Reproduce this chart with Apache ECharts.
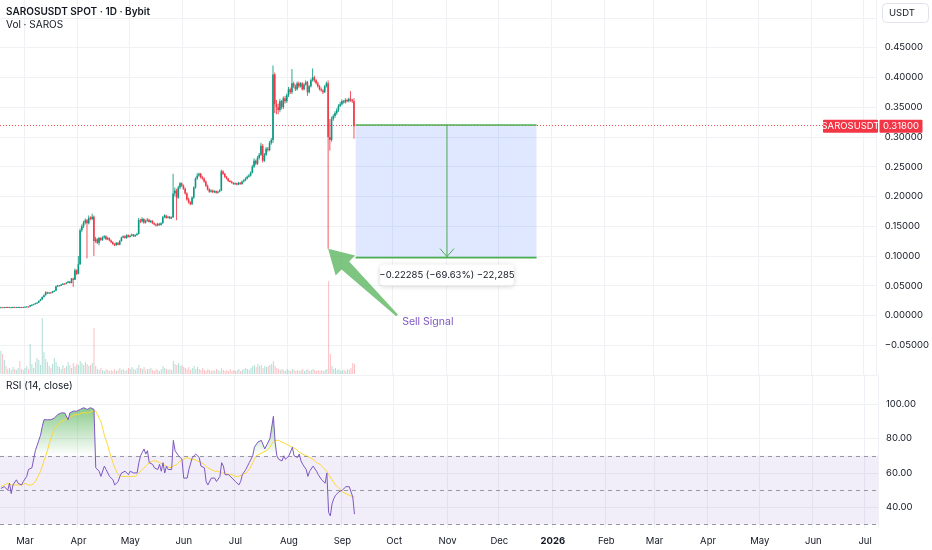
<!DOCTYPE html>
<html><head><meta charset="utf-8">
<script src="https://cdn.jsdelivr.net/npm/echarts@6/dist/echarts.min.js"></script>
<style>html,body{margin:0;padding:0;background:#fff}#c{width:932px;height:550px}</style>
</head><body><div id="c"></div>
<script>
// ---------- DATA ----------
const startDate = '2025-02-15';
const totalDays = 509;           // Feb 15 2025 .. Jul 8 2026 (time axis range)
const firstOpen = 0.0139;
const closes = [
 0.0140,0.0138,0.0141,0.0139,0.0142,0.0138,0.0140,0.0143,0.0139,0.0141,0.0144,0.0140,0.0142,0.0141,
 0.0146,0.0150,0.0148,0.0170,0.0180,0.0190,0.0205,
 0.0215,0.0245,0.0270,0.0310,
 0.0340,0.0390,
 0.0370,0.0385,0.0380,0.0405,0.0415,
 0.0490,0.0505,0.0500,0.0520,0.0535,0.0530,0.0550,
 0.0570,0.0545,0.0620,
 0.0600,
 0.0760,0.0700,0.0860,
 0.1430,
 0.1500,0.1560,0.1600,0.1550,0.1640,0.1620,0.1660,
 0.1250,
 0.1280,0.1220,0.1300,0.1270,0.1310,0.1330,0.1280,0.1300,0.1260,
 0.1230,0.1200,0.1180,0.1220,0.1190,0.1250,
 0.1310,0.1330,0.1300,0.1350,0.1320,0.1340,0.1360,0.1330,0.1350,0.1370,
 0.1600,0.1580,0.1620,0.1560,0.1590,0.1610,
 0.1570,0.1590,0.1550,0.1530,0.1510,0.1540,0.1520,0.1550,
 0.1650,0.1680,0.1640,0.1660,0.1630,0.1650,
 0.2050,0.2100,0.1980,
 0.2150,0.2220,0.2180,0.2130,
 0.2050,0.1950,0.1900,0.1870,
 0.1980,0.2150,0.2300,0.2350,
 0.2380,0.2320,0.2300,
 0.2250,0.2180,0.2120,0.2080,
 0.2100,0.2070,0.2090,0.2060,0.2080,0.2100,
 0.2420,
 0.2380,0.2330,0.2300,0.2260,0.2250,0.2230,0.2210,0.2220,0.2200,0.2230,0.2210,
 0.2250,0.2270,0.2300,0.2330,0.2350,0.2400,0.2500,
 0.2600,0.2550,0.2650,0.2700,
 0.2850,0.2600,0.2700,0.2800,
 0.2780,0.2900,0.2950,
 0.4050,
 0.3550,0.3500,
 0.3450,0.3600,0.3500,0.3650,0.3600,0.3700,
 0.3800,0.3750,0.3900,0.3850,0.3800,0.3900,
 0.3850,0.3900,0.3800,0.3880,0.3920,0.3750,0.3850,
 0.3950,0.4000,0.3950,
 0.3900,0.3850,0.3800,0.3780,0.3750,0.3850,
 0.3900,
 0.3000,
 0.2950,
 0.3300,
 0.3350,0.3400,0.3450,0.3520,0.3550,0.3600,
 0.3580,0.3620,0.3600,0.3640,0.3620,0.3600,
 0.3180
];
const highs = [
 0.0146,0.0143,0.0145,0.0144,0.0146,0.0145,0.0143,0.0147,0.0145,0.0144,0.0148,0.0146,0.0145,0.0146,
 0.0150,0.0155,0.0154,0.0178,0.0188,0.0196,0.0212,
 0.0225,0.0252,0.0280,0.0320,
 0.0355,0.0405,
 0.0398,0.0392,0.0392,0.0412,0.0425,
 0.0500,0.0515,0.0512,0.0528,0.0545,0.0542,0.0560,
 0.0582,0.0575,0.0630,
 0.0635,
 0.0790,0.0775,0.1000,
 0.1460,
 0.1530,0.1590,0.1630,0.1620,0.1680,0.1665,0.1710,
 0.1680,
 0.1320,0.1300,0.1320,0.1315,0.1330,0.1350,0.1345,0.1320,0.1310,
 0.1275,0.1245,0.1215,0.1235,0.1230,0.1265,
 0.1325,0.1345,0.1345,0.1365,0.1360,0.1355,0.1375,0.1370,0.1365,0.1390,
 0.1640,0.1625,0.1650,0.1635,0.1610,0.1640,
 0.1625,0.1605,0.1600,0.1565,0.1545,0.1555,0.1555,0.1565,
 0.1670,0.1700,0.1690,0.1675,0.1670,0.1665,
 0.2380,0.2150,0.2130,
 0.2180,0.2240,0.2235,0.2200,
 0.2150,0.2070,0.1980,0.1920,
 0.2000,0.2170,0.2320,0.2390,
 0.2400,0.2395,0.2345,
 0.2320,0.2270,0.2200,0.2140,
 0.2120,0.2115,0.2105,0.2100,0.2095,0.2120,
 0.2450,
 0.2440,0.2395,0.2345,0.2310,0.2275,0.2265,0.2240,0.2235,0.2230,0.2245,0.2240,
 0.2265,0.2290,0.2320,0.2350,0.2375,0.2420,0.2530,
 0.2640,0.2620,0.2680,0.2730,
 0.2900,0.2880,0.2730,0.2830,
 0.2830,0.2930,0.2980,
 0.4200,
 0.4080,0.3620,
 0.3560,0.3640,0.3620,0.3680,0.3690,0.3730,
 0.3840,0.3830,0.4140,0.3930,0.3880,0.3930,
 0.3930,0.3920,0.3920,0.3900,0.3950,0.3940,0.3870,
 0.3980,0.4150,0.4030,
 0.3970,0.3930,0.3870,0.3830,0.3800,0.3870,
 0.3930,
 0.3950,
 0.3300,
 0.3340,
 0.3380,0.3430,0.3480,0.3550,0.3590,0.3630,
 0.3620,0.3650,0.3640,0.3660,0.3770,0.3640,
 0.3650
];
const lows = [
 0.0135,0.0134,0.0135,0.0136,0.0136,0.0135,0.0135,0.0137,0.0136,0.0136,0.0138,0.0137,0.0137,0.0138,
 0.0139,0.0143,0.0144,0.0146,0.0165,0.0176,0.0186,
 0.0200,0.0210,0.0240,0.0265,
 0.0300,0.0335,
 0.0360,0.0365,0.0372,0.0375,0.0398,
 0.0410,0.0482,0.0492,0.0495,0.0512,0.0522,0.0525,
 0.0545,0.0535,0.0540,
 0.0480,
 0.0595,0.0680,0.0690,
 0.0850,
 0.1400,0.1470,0.1530,0.0960,0.1530,0.1600,0.1600,
 0.1000,
 0.1220,0.1200,0.1180,0.1250,0.1255,0.1290,0.1265,0.1270,0.1245,
 0.1215,0.1185,0.1165,0.1170,0.1180,0.1180,
 0.1240,0.1300,0.1290,0.1290,0.1310,0.1310,0.1330,0.1320,0.1320,0.1340,
 0.1360,0.1550,0.1560,0.1540,0.1545,0.1575,
 0.1560,0.1555,0.1535,0.1515,0.1495,0.1500,0.1505,0.1510,
 0.1540,0.1635,0.1625,0.1630,0.1620,0.1620,
 0.1640,0.2000,0.1600,
 0.1960,0.2120,0.2160,0.2110,
 0.2030,0.1930,0.1880,0.1850,
 0.1860,0.1960,0.2130,0.2280,
 0.2330,0.2300,0.2280,
 0.2230,0.2160,0.2100,0.2060,
 0.2065,0.2055,0.2060,0.2045,0.2050,0.2070,
 0.2090,
 0.2360,0.2310,0.2285,0.2245,0.2235,0.2215,0.2195,0.2195,0.2185,0.2190,0.2195,
 0.2195,0.2235,0.2255,0.2285,0.2315,0.2335,0.2385,
 0.2480,0.2520,0.2530,0.2620,
 0.2680,0.2570,0.2580,0.2680,
 0.2750,0.2760,0.2870,
 0.2900,
 0.3400,0.3380,
 0.3380,0.3420,0.3460,0.3470,0.3560,0.3570,
 0.3670,0.3720,0.3720,0.3820,0.3770,0.3780,
 0.3820,0.3830,0.3780,0.3780,0.3860,0.3690,0.3730,
 0.3830,0.3930,0.3920,
 0.3880,0.3830,0.3780,0.3760,0.3720,0.3740,
 0.3830,
 0.1120,
 0.2770,
 0.2920,
 0.3270,0.3320,0.3370,0.3420,0.3500,0.3530,
 0.3560,0.3560,0.3580,0.3580,0.3590,0.3570,
 0.2970
];
const volumes = [
 23,20,14,8,5,6,4,7,5,4,6,13,5,4,
 6,8,5,30,10,6,12,
 16,14,9,56,
 22,15,
 12,8,6,10,16,
 12,8,7,5,9,6,8,
 12,9,6,
 11,
 8,10,9,
 13,
 11,9,12,10,8,9,11,
 46,
 8,5,4,6,4,3,5,4,3,
 4,3,5,3,4,6,
 4,5,3,4,6,5,7,5,4,6,
 9,6,5,7,4,5,
 5,6,4,3,5,4,3,5,
 8,6,5,4,5,4,
 13,10,9,
 11,8,9,7,
 6,5,7,4,
 6,8,5,7,
 5,4,6,
 4,3,5,4,
 3,4,3,5,4,3,
 6,
 4,3,4,3,5,3,4,3,4,5,3,
 4,5,6,5,4,6,8,
 9,7,10,8,
 9,6,8,7,
 8,9,10,
 13,
 8,6,
 5,4,5,4,3,5,
 4,3,5,4,3,4,
 3,4,5,3,4,5,3,
 4,5,4,
 3,4,3,4,3,4,
 5,
 93,
 20,
 8,
 5,6,4,5,3,4,
 4,3,5,4,6,11,
 10
];
const rsi = [
 51,50,52,51,50, 54,48,53, 53,56,54,55,53,55,54, 58,62,61, 63,64, 73,76,79, 82,87,91,
 92,91,92,91,91, 92,93,94, 95,95,96,95,96, 91,95, 95,96,95,96,96,97,97, 98,98,97,98,98,98,97,
 63,62,61, 58,57, 64, 62,60,58,57,56, 53,53,55, 58, 60,59,61,60,59,61,60,60, 61,60,66,
 70,72,74,71,73, 66,67,65, 63,64,62,65, 61,66,60,64, 62,63,62, 79, 73,74,70,71,68,
 57,56,57, 62,63, 69,70,71,70,69, 64,65,63, 55,53,52, 57,56,57,55,56,58, 66,64,
 59,58,59,58,57,56, 55,54,53,55, 59,60,62,64, 66,68,70, 75,76,78,77,79,78, 74,75,
 78,80,81, 93, 78,70, 68,69,67,70,68,69,70,69, 75, 70,71,69,71, 67,65,64,62,
 58,61,62,64, 63,61,59,58, 56,55,54, 60, 37,35,42, 45,47,48, 49,49,50, 51,52,52,52, 52,46,36
];
const rsiMA = [
 52,52,53,53,54,54, 53,53,53,53,53,53,53,54,54,53, 53,53,53,54, 55,57,59,61, 64,67,70,73,
 77,80,83, 86,87,88,89, 90,91,91,92, 92,93,93,94, 94,94,94,95,95,95,95,95, 95,96,96,96,96,
 94,92,90, 86,82,79, 76,72,69,66, 63,61,59, 58,58,58,58,58,58,58,58,58,58,59,
 60,61,62,63,64,65, 66,67,67,67,67, 66,66,65,65,64,64,63,63, 64,64,64,65,
 66,67,68,68,69,69, 68,68,68,68, 67,67,67, 66,65,65,64,63,63,62,62,
 61,61,61,60,60,60,60,60, 59,59,59,58,58,58,58,58, 59,59,60,61,62, 64,66,68,70,
 71,71,72,72,73,73, 74,75,77,78, 79,79, 79,78,78,77,77,77,76,76, 75,74,74,73,72,
 71,71,70,70,69,69,68,68, 67,66,65,65,64,63,62,61, 59,58,56,55,53,52, 51,50,49,49,48,
 48,47,47,46,46
];
const rsiLevels = [70, 50, 30];
const priceLineValue = 0.318;
const priceLabelText = ['SAROSUSDT', '0.31800'];
const measureTop = 0.32005, measureBottom = 0.0972;
const measureStartIdx = 206, measureEndIdx = 311, measureArrowIdx = 259;
const measureText = '\u22120.22285 (\u221269.63%) \u221222,285';
const signalTip = [190, 0.112], signalTail = [230, 0.0], signalTextAt = [233, -0.010];
const signalText = 'Sell Signal';
const monthNames = ['Jan','Feb','Mar','Apr','May','Jun','Jul','Aug','Sep','Oct','Nov','Dec'];

// ---------- BUILD ----------
const FONT = 'Inter, "Noto Sans", sans-serif';
const TXT = '#131722';
const GRIDC = '#eff1f4';
const UP = '#089981', DOWN = '#f23645';
const DAY = 86400000;
const t0 = Date.parse(startDate + 'T00:00:00Z');
const dates = [];
for (let i = 0; i < totalDays; i++) dates.push(new Date(t0 + i * DAY).toISOString().slice(0, 10));
const opens = closes.map((c, i) => i === 0 ? firstOpen : closes[i - 1]);
const candleRows = closes.map((c, i) => [i, opens[i], c, lows[i], highs[i]]);
const volData = volumes.map((v, i) => ({
  value: v,
  itemStyle: { color: closes[i] >= opens[i] ? 'rgba(8,153,129,0.32)' : 'rgba(242,54,69,0.32)' }
}));
const obFill = rsi.map(v => Math.max(v - 70, 0));
const obBase = rsi.map(() => 70);
const isMonthStart = (idx, val) => typeof val === 'string' && val.slice(8) === '01';

const MAIN_TOP = 0, MAIN_H = 375;
const RSI_TOP = 374, RSI_H = 154;
const rsiMin = 27.94, rsiMax = 117.65;
const rsiY = v => RSI_TOP + (rsiMax - v) / (rsiMax - rsiMin) * RSI_H;

function renderCandle(params, api) {
  const i = api.value(0), o = api.value(1), c = api.value(2), l = api.value(3), h = api.value(4);
  const col = c >= o ? UP : DOWN;
  const pO = api.coord([i, o]), pC = api.coord([i, c]), pL = api.coord([i, l]), pH = api.coord([i, h]);
  const x = pO[0];
  const top = Math.min(pO[1], pC[1]);
  const hgt = Math.max(Math.abs(pO[1] - pC[1]), 1);
  return {
    type: 'group',
    children: [
      { type: 'line', shape: { x1: x, y1: pH[1], x2: x, y2: pL[1] }, style: { stroke: col, lineWidth: 1, opacity: 0.85 } },
      { type: 'rect', shape: { x: x - 0.8, y: top, width: 1.6, height: hgt }, style: { fill: col } }
    ]
  };
}

const chart = echarts.init(document.getElementById('c'), null, { renderer: 'canvas' });
const hiddenCat = {
  type: 'category', data: dates, boundaryGap: true,
  axisLine: { show: false }, axisTick: { show: false }, axisLabel: { show: false }
};
chart.setOption({
  animation: false,
  backgroundColor: '#ffffff',
  textStyle: { fontFamily: FONT },
  grid: [
    { left: 0, right: 54, top: MAIN_TOP, height: MAIN_H },
    { left: 0, right: 54, top: 275, height: 99 },
    { left: 0, right: 54, top: RSI_TOP, height: RSI_H }
  ],
  xAxis: [
    Object.assign({}, hiddenCat, { gridIndex: 0, splitLine: { show: true, interval: isMonthStart, lineStyle: { color: GRIDC, width: 1 } } }),
    Object.assign({}, hiddenCat, { gridIndex: 1, show: false }),
    Object.assign({}, hiddenCat, {
      gridIndex: 2,
      splitLine: { show: true, interval: isMonthStart, lineStyle: { color: GRIDC, width: 1 } },
      axisLabel: {
        show: true, interval: isMonthStart, margin: 8, fontSize: 9.5, color: TXT, fontFamily: FONT,
        formatter: v => { const m = +v.slice(5, 7); return m === 1 ? '{y|' + v.slice(0, 4) + '}' : monthNames[m - 1]; },
        rich: { y: { fontWeight: 'bold', fontSize: 9.5, color: TXT, fontFamily: FONT } }
      }
    })
  ],
  yAxis: [
    {
      gridIndex: 0, type: 'value', position: 'right', min: -0.1, max: 0.53, interval: 0.05,
      axisLine: { show: false }, axisTick: { show: false },
      splitLine: { show: true, showMaxLine: false, lineStyle: { color: GRIDC, width: 1 } },
      axisLabel: {
        margin: 8, fontSize: 9.5, color: TXT, fontFamily: FONT,
        formatter: v => {
          if (v < -0.06 || v > 0.46) return '';
          if (Math.abs(v) < 1e-9) return '0.00000';
          return (v < 0 ? '\u2212' : '') + Math.abs(v).toFixed(5);
        }
      }
    },
    { gridIndex: 1, type: 'value', min: 0, max: 99, show: false, splitLine: { show: false } },
    {
      gridIndex: 2, type: 'value', position: 'right', min: rsiMin, max: rsiMax, splitNumber: 5,
      axisLine: { show: false }, axisTick: { show: false },
      splitLine: { show: true, showMinLine: false, showMaxLine: false, lineStyle: { color: GRIDC, width: 1 } },
      axisLabel: {
        margin: 8, fontSize: 9.5, color: TXT, fontFamily: FONT,
        formatter: v => {
          const r = Math.round(v);
          if (Math.abs(v - r) > 1e-6 || r % 20 !== 0 || r < 40 || r > 100) return '';
          return r.toFixed(2);
        }
      }
    }
  ],
  series: [
    {
      type: 'bar', name: 'Vol', xAxisIndex: 1, yAxisIndex: 1, data: volData, barWidth: 1, z: 1
    },
    {
      type: 'custom', name: 'SAROSUSDT', xAxisIndex: 0, yAxisIndex: 0, data: candleRows,
      renderItem: renderCandle, encode: { x: 0, y: [1, 2, 3, 4] }, clip: true, z: 3,
      markLine: {
        silent: true, symbol: 'none', label: { show: false },
        lineStyle: { color: DOWN, type: [1, 2], width: 1, opacity: 0.9 },
        data: [{ yAxis: priceLineValue }]
      }
    },
    {
      type: 'line', name: 'obBase', xAxisIndex: 2, yAxisIndex: 2, data: obBase, stack: 'ob',
      symbol: 'none', lineStyle: { opacity: 0, width: 0 }, silent: true, z: 2,
      markArea: { silent: true, itemStyle: { color: 'rgba(126,87,194,0.1)' }, data: [[{ yAxis: 30 }, { yAxis: 70 }]] },
      markLine: {
        silent: true, symbol: 'none', label: { show: false },
        lineStyle: { color: '#9598a1', type: [4, 4], width: 1 },
        data: rsiLevels.map(v => ({ yAxis: v }))
      }
    },
    {
      type: 'line', name: 'obFill', xAxisIndex: 2, yAxisIndex: 2, data: obFill, stack: 'ob',
      symbol: 'none', lineStyle: { opacity: 0, width: 0 }, silent: true, z: 2,
      areaStyle: {
        color: new echarts.graphic.LinearGradient(0, rsiY(100), 0, rsiY(70), [
          { offset: 0, color: 'rgba(76,175,80,1)' },
          { offset: 1, color: 'rgba(76,175,80,0)' }
        ], true)
      }
    },
    {
      type: 'line', name: 'RSI-MA', xAxisIndex: 2, yAxisIndex: 2, data: rsiMA,
      symbol: 'none', lineStyle: { color: '#fdd835', width: 1 }, z: 4
    },
    {
      type: 'line', name: 'RSI', xAxisIndex: 2, yAxisIndex: 2, data: rsi,
      symbol: 'none', lineStyle: { color: '#7e57c2', width: 1 }, z: 5
    }
  ]
});

// ---------- ANNOTATIONS (positioned from data coordinates) ----------
const P = (i, v) => chart.convertToPixel({ gridIndex: 0 }, [i, v]);
const W = chart.getWidth();
const gridRight = W - 54;
const g = [];
const xs = P(measureStartIdx, measureTop)[0], xe = P(measureEndIdx, measureTop)[0];
const yt = P(0, measureTop)[1], yb = P(0, measureBottom)[1];
const xa = P(measureArrowIdx, 0)[0];
g.push({ type: 'rect', z: 1, shape: { x: xs, y: yt, width: xe - xs, height: yb - yt }, style: { fill: 'rgba(41,98,255,0.15)' } });
g.push({ type: 'line', z: 10, shape: { x1: xs, y1: yt, x2: xe, y2: yt }, style: { stroke: '#4caf50', lineWidth: 1.6 } });
g.push({ type: 'line', z: 10, shape: { x1: xs, y1: yb, x2: xe, y2: yb }, style: { stroke: '#4caf50', lineWidth: 1.6 } });
g.push({ type: 'line', z: 10, shape: { x1: xa, y1: yt, x2: xa, y2: yb }, style: { stroke: '#4caf50', lineWidth: 1 } });
g.push({ type: 'polyline', z: 10, shape: { points: [[xa - 7, yb - 9], [xa, yb - 1], [xa + 7, yb - 9]] }, style: { stroke: '#4caf50', lineWidth: 1, fill: null } });
// measure label
const bw = 134, bh = 21;
g.push({ type: 'rect', z: 11, shape: { x: xa - bw / 2, y: yb + 7, width: bw, height: bh, r: 4 },
  style: { fill: '#ffffff', shadowBlur: 5, shadowColor: 'rgba(0,0,0,0.18)', shadowOffsetY: 1 } });
g.push({ type: 'text', z: 12, x: xa, y: yb + 7 + bh / 2,
  style: { text: measureText, fill: TXT, font: '9.5px ' + FONT, align: 'center', verticalAlign: 'middle' } });
// big green arrow
const T = P(signalTip[0], signalTip[1]), B = P(signalTail[0], signalTail[1]);
const dx = T[0] - B[0], dy = T[1] - B[1], L = Math.hypot(dx, dy);
const ux = dx / L, uy = dy / L, nx = -uy, ny = ux;
const headLen = 24, headHalf = 14, shaftBase = 5.5, shaftTail = 1.2;
const H = [T[0] - ux * headLen, T[1] - uy * headLen];
const pt = (c, s) => [c[0] + nx * s, c[1] + ny * s];
g.push({ type: 'polygon', z: 9, shape: { points: [
  T, pt(H, headHalf), pt(H, shaftBase), pt(B, shaftTail), pt(B, -shaftTail), pt(H, -shaftBase), pt(H, -headHalf)
] }, style: { fill: 'rgba(76,175,80,0.72)' } });
const ST = P(signalTextAt[0], signalTextAt[1]);
g.push({ type: 'text', z: 12, x: ST[0], y: ST[1],
  style: { text: signalText, fill: '#7e57c2', font: '10.5px ' + FONT, align: 'left', verticalAlign: 'middle' } });
// price label on the right axis
const py = P(0, priceLineValue)[1];
g.push({ type: 'rect', z: 20, shape: { x: gridRight - 55, y: py - 6.5, width: 55, height: 13, r: 1 }, style: { fill: DOWN } });
g.push({ type: 'rect', z: 20, shape: { x: gridRight + 1.5, y: py - 6.5, width: 43, height: 13, r: 1 }, style: { fill: DOWN } });
g.push({ type: 'text', z: 21, x: gridRight - 27.5, y: py, style: { text: priceLabelText[0], fill: '#fff', font: '9.5px ' + FONT, align: 'center', verticalAlign: 'middle' } });
g.push({ type: 'text', z: 21, x: gridRight + 23, y: py, style: { text: priceLabelText[1], fill: '#fff', font: '9.5px ' + FONT, align: 'center', verticalAlign: 'middle' } });
// currency box
g.push({ type: 'rect', z: 20, shape: { x: gridRight + 4.5, y: 3.5, width: 46, height: 19, r: 4 }, style: { fill: '#fff', stroke: '#e0e3eb', lineWidth: 1 } });
g.push({ type: 'text', z: 21, x: gridRight + 11, y: 13, style: { text: 'USDT', fill: TXT, font: '9.5px ' + FONT, align: 'left', verticalAlign: 'middle' } });
// pane titles
g.push({ type: 'text', z: 21, x: 6, y: 12, style: { text: 'SAROSUSDT SPOT \u00b7 1D \u00b7 Bybit', fill: TXT, font: '600 10px ' + FONT, align: 'left', verticalAlign: 'middle' } });
g.push({ type: 'text', z: 21, x: 6, y: 25, style: { text: 'Vol \u00b7 SAROS', fill: TXT, font: '10px ' + FONT, align: 'left', verticalAlign: 'middle' } });
g.push({ type: 'text', z: 21, x: 6, y: 386, style: { text: 'RSI (14, close)', fill: TXT, font: '10px ' + FONT, align: 'left', verticalAlign: 'middle' } });
chart.setOption({ graphic: g });
</script>
</body></html>
